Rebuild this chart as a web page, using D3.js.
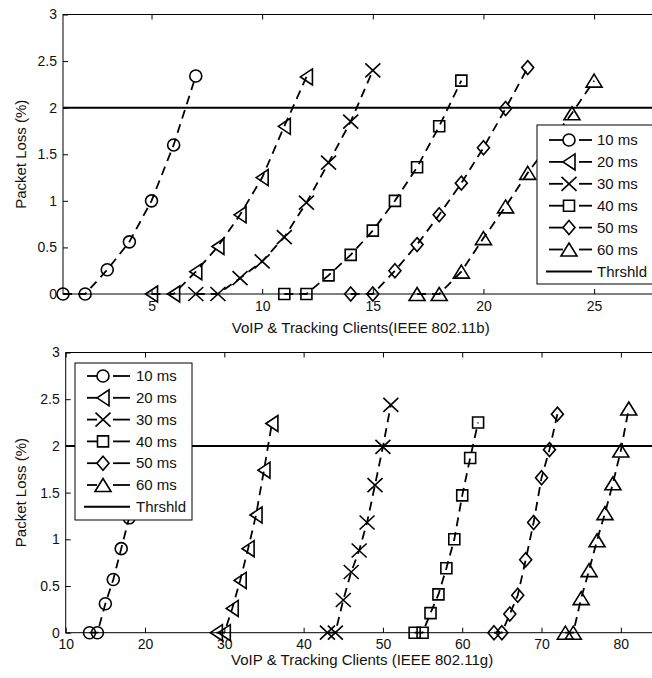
<!DOCTYPE html>
<html>
<head>
<meta charset="utf-8">
<script src="https://cdn.jsdelivr.net/npm/d3@7"></script>
<style>
  body { margin: 0; background: #fff; }
  svg { display: block; font-family: "Liberation Sans", Arial, sans-serif; }
  .axis path { display: none; }
  .axis line { stroke: #000; }
  .axis text { font-size: 14px; fill: #111; }
  .label { font-size: 15px; fill: #111; }
</style>
</head>
<body>
<svg width="652" height="678"></svg>
<script>
// series names and marker shapes, same order in both panels
var delays = ["10 ms", "20 ms", "30 ms", "40 ms", "50 ms", "60 ms"];
var shapes = ["circle", "triLeft", "cross", "square", "diamond", "triUp"];
var threshold = 2;
var lossTicks = [0, 0.5, 1, 1.5, 2, 2.5, 3];

// IEEE 802.11b panel
var ticksB = [5, 10, 15, 20, 25];
var clientsB = [
  [1, 2, 3, 4, 5, 6, 7],
  [5, 6, 7, 8, 9, 10, 11, 12],
  [7, 8, 9, 10, 11, 12, 13, 14, 15],
  [11, 12, 13, 14, 15, 16, 17, 18, 19],
  [14, 15, 16, 17, 18, 19, 20, 21, 22],
  [17, 18, 19, 20, 21, 22, 23, 24, 25]
];
var lossB = [
  [0, 0, 0.26, 0.56, 1.0, 1.6, 2.34],
  [0, 0, 0.24, 0.51, 0.85, 1.25, 1.8, 2.33],
  [0, 0, 0.17, 0.35, 0.61, 0.98, 1.41, 1.85, 2.4],
  [0, 0, 0.2, 0.42, 0.68, 1.0, 1.36, 1.8, 2.29],
  [0, 0, 0.25, 0.53, 0.85, 1.19, 1.57, 1.99, 2.43],
  [0, 0, 0.24, 0.6, 0.94, 1.3, 1.62, 1.94, 2.29]
];

// IEEE 802.11g panel
var ticksG = [10, 20, 30, 40, 50, 60, 70, 80];
var clientsG = [
  [13, 14, 15, 16, 17, 18, 19, 20, 21],
  [29, 30, 31, 32, 33, 34, 35, 36],
  [43, 44, 45, 46, 47, 48, 49, 50, 51],
  [54, 55, 56, 57, 58, 59, 60, 61, 62],
  [64, 65, 66, 67, 68, 69, 70, 71, 72],
  [73, 74, 75, 76, 77, 78, 79, 80, 81]
];
var lossG = [
  [0, 0, 0.31, 0.57, 0.9, 1.23, 1.58, 1.95, 2.3],
  [0, 0, 0.26, 0.56, 0.9, 1.26, 1.74, 2.24],
  [0, 0, 0.35, 0.65, 0.88, 1.18, 1.58, 1.99, 2.44],
  [0, 0, 0.21, 0.41, 0.69, 1.0, 1.47, 1.87, 2.25],
  [0, 0, 0.2, 0.4, 0.78, 1.18, 1.66, 1.96, 2.34],
  [0, 0, 0.37, 0.67, 0.99, 1.28, 1.6, 1.95, 2.4]
];

var svg = d3.select("svg");

// matlab-ish marker outlines, centred on 0,0
function marker(shape) {
  var p = d3.path();
  if (shape == "circle") {
    p.moveTo(6, 0); p.arc(0, 0, 6, 0, 2 * Math.PI);
  } else if (shape == "triLeft") {
    p.moveTo(-6, 0); p.lineTo(6, -8); p.lineTo(6, 8); p.closePath();
  } else if (shape == "cross") {
    p.moveTo(-7.5, -7); p.lineTo(7.5, 7); p.moveTo(-7.5, 7); p.lineTo(7.5, -7);
  } else if (shape == "square") {
    p.rect(-5.5, -5.5, 11, 11);
  } else if (shape == "diamond") {
    p.moveTo(0, -7); p.lineTo(6, 0); p.lineTo(0, 7); p.lineTo(-6, 0); p.closePath();
  } else {
    p.moveTo(0, -6.5); p.lineTo(8, 6.5); p.lineTo(-8, 6.5); p.closePath();
  }
  return p.toString();
}

function drawPanel(o) {
  var x = d3.scaleLinear().domain(o.xDomain).range([o.left, o.right]),
      y = d3.scaleLinear().domain([0, 3]).range([o.bottom, o.top]);

  var g = svg.append("g");

  g.append("rect")
      .attr("x", o.left).attr("y", o.top)
      .attr("width", o.right - o.left).attr("height", o.bottom - o.top)
      .attr("fill", "none").attr("stroke", "#000").attr("stroke-width", 1);

  g.append("g")
      .attr("class", "axis")
      .attr("transform", "translate(0," + o.bottom + ")")
      .call(d3.axisBottom(x).tickValues(o.ticks).tickSize(-5).tickPadding(o.tickPad));

  g.append("g")
      .attr("class", "axis")
      .attr("transform", "translate(0," + o.top + ")")
      .call(d3.axisTop(x).tickValues(o.ticks).tickSize(-5).tickFormat(""));

  g.append("g")
      .attr("class", "axis")
      .attr("transform", "translate(" + o.left + ",0)")
      .call(d3.axisLeft(y).tickValues(lossTicks).tickSize(-5).tickPadding(6).tickFormat(d3.format("")));

  g.append("text")
      .attr("class", "label")
      .attr("transform", "translate(26," + (o.top + o.bottom) / 2 + ") rotate(-90)")
      .attr("text-anchor", "middle")
      .text("Packet Loss (%)");

  g.append("text")
      .attr("class", "label")
      .attr("x", (o.left + o.right) / 2 - 1)
      .attr("y", o.bottom + o.labelGap)
      .attr("text-anchor", "middle")
      .text(o.xLabel);

  // threshold
  g.append("line")
      .attr("x1", o.left).attr("x2", o.right)
      .attr("y1", y(threshold)).attr("y2", y(threshold))
      .attr("stroke", "#000").attr("stroke-width", 2);

  var line = d3.line()
      .x(function(d) { return x(d[0]); })
      .y(function(d) { return y(d[1]); });

  var series = delays.map(function(name, i) {
    return {
      name: name,
      shape: shapes[i],
      values: o.clients[i].map(function(c, j) { return [c, o.loss[i][j]]; })
    };
  });

  var s = g.selectAll(".series")
      .data(series)
      .enter().append("g")
      .attr("class", "series");

  s.append("path")
      .attr("d", function(d) { return line(d.values); })
      .attr("fill", "none")
      .attr("stroke", "#000")
      .attr("stroke-width", 1.8)
      .attr("stroke-dasharray", "9,6");

  s.selectAll(".mk")
      .data(function(d) { return d.values.map(function(v) { return {v: v, shape: d.shape}; }); })
      .enter().append("path")
      .attr("class", "mk")
      .attr("transform", function(d) { return "translate(" + x(d.v[0]) + "," + y(d.v[1]) + ")"; })
      .attr("d", function(d) { return marker(d.shape); })
      .attr("fill", "none")
      .attr("stroke", "#000")
      .attr("stroke-width", 1.6);

  // legend
  var L = o.legend;
  var leg = g.append("g");
  leg.append("rect")
      .attr("x", L.x).attr("y", L.y)
      .attr("width", L.w).attr("height", L.h)
      .attr("fill", "#fff").attr("stroke", "#000").attr("stroke-width", 1);

  var names = delays.concat(["Thrshld"]);
  var row = leg.selectAll(".row")
      .data(names)
      .enter().append("g")
      .attr("class", "row")
      .attr("transform", function(d, i) { return "translate(0," + (L.row0 + i * L.step) + ")"; });

  row.filter(function(d, i) { return i < 6; }).each(function(d, i) {
    var r = d3.select(this);
    r.append("line").attr("x1", L.s0).attr("x2", L.m - 6)
        .attr("stroke", "#000").attr("stroke-width", 1.8);
    r.append("line").attr("x1", L.m + 10).attr("x2", L.s1)
        .attr("stroke", "#000").attr("stroke-width", 1.8);
    r.append("path")
        .attr("transform", "translate(" + L.m + ",0)")
        .attr("d", marker(shapes[i]))
        .attr("fill", "none").attr("stroke", "#000").attr("stroke-width", 1.6);
  });

  row.filter(function(d, i) { return i == 6; })
      .append("line").attr("x1", L.s0 - 3).attr("x2", L.s1)
      .attr("stroke", "#000").attr("stroke-width", 2);

  row.append("text")
      .attr("class", "label")
      .attr("x", L.t)
      .attr("dy", "0.35em")
      .text(function(d) { return d; });
}

drawPanel({
  left: 63, right: 660.5, top: 14.5, bottom: 294,
  xDomain: [1, 28], ticks: ticksB,
  clients: clientsB, loss: lossB, labelGap: 39, tickPad: 7,
  xLabel: "VoIP & Tracking Clients(IEEE 802.11b)",
  legend: {x: 537, y: 125, w: 200, h: 159, row0: 140, step: 21.9, s0: 549, s1: 592, m: 569, t: 597}
});

drawPanel({
  left: 65.7, right: 660.5, top: 352.5, bottom: 632.7,
  xDomain: [10, 85], ticks: ticksG,
  clients: clientsG, loss: lossG, labelGap: 32.5, tickPad: 6,
  xLabel: "VoIP & Tracking Clients (IEEE 802.11g)",
  legend: {x: 75, y: 363, w: 117, h: 157, row0: 376, step: 21.8, s0: 87, s1: 130, m: 103, t: 136}
});
</script>
</body>
</html>
